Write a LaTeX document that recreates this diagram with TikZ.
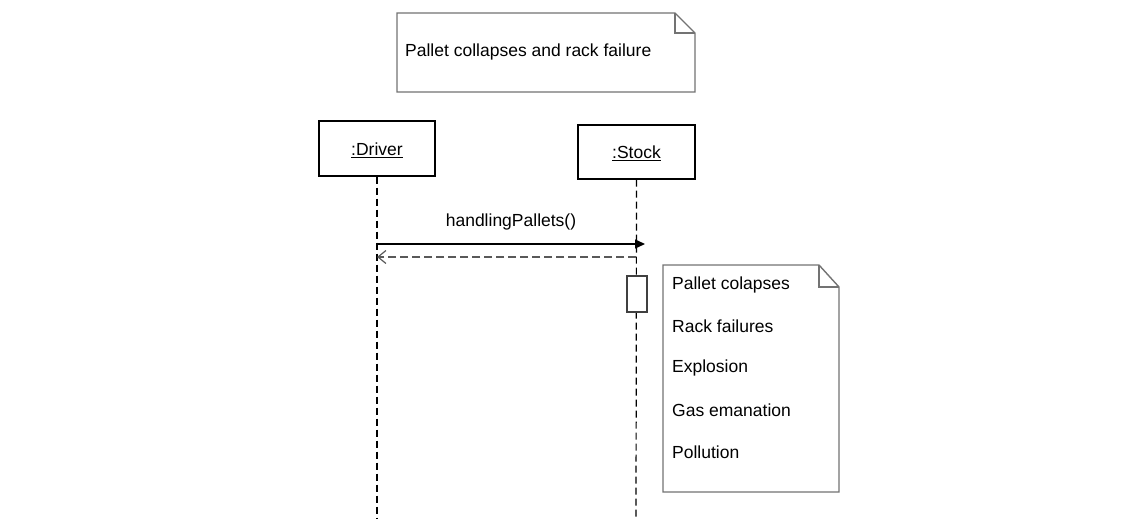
\documentclass[tikz,border=0pt]{standalone}
\usepackage{fontspec}
\setmainfont{Liberation Sans}
\usetikzlibrary{arrows.meta}
\tikzset{
  objbox/.style={draw=black, line width=1.1pt, inner sep=0pt, font=\fontsize{17.5}{19}\selectfont},
  lifeline/.style={black, line width=1.2pt, dash pattern=on 7pt off 4pt},
  notebd/.style={draw=black!55, line width=1.4pt, fill=white},
  notetxt/.style={anchor=west, inner sep=0pt, font=\fontsize{17.5}{19}\selectfont},
  msg/.style={line width=1.3pt, -{Triangle[length=10pt,width=9pt]}},
  ret/.style={black!65, line width=1.2pt, dash pattern=on 8pt off 4pt, -{Straight Barb[length=8pt,width=13pt]}},
}
\begin{document}
\begin{tikzpicture}[x=1pt,y=-1pt]
\useasboundingbox (0,0) rectangle (1143,519);
% top note
\draw[notebd] (397,13) -- (675,13) -- (695,33) -- (695,92) -- (397,92) -- cycle;
\draw[notebd, fill=none] (675,13) -- (675,33) -- (695,33);
\node[notetxt] (n1) at (405,52) {Pallet collapses and rack failure};
% objects
\node[objbox, minimum width=116pt, minimum height=55pt] (drv) at (377,148.5) {};
\node[font=\fontsize{17.5}{19}\selectfont, inner sep=0pt] (drvl) at (377,150.5) {\underline{:Driver}};
\node[objbox, minimum width=117pt, minimum height=54pt] (stk) at (636.5,152) {};
\node[font=\fontsize{17.5}{19}\selectfont, inner sep=0pt] (stkl) at (636.5,153.5) {\underline{:Stock}};
\coordinate (drvEnd) at (377,519);
\coordinate (stkEnd) at (636,519);
\draw[lifeline] (drv.south) -- (drvEnd);
\draw[lifeline] (stk.south) -- (stkEnd);
% messages
\coordinate (m1s) at (377,244);
\coordinate (m1e) at (645,244);
\draw[msg] (m1s) -- (m1e) node[midway, above=10pt, font=\fontsize{17.5}{19}\selectfont] (lbl) {handlingPallets()};
\coordinate (r1s) at (636,257);
\coordinate (r1e) at (377,257);
\draw[ret] (r1s) -- (r1e);
% activation
\node[draw=black!75, line width=1.2pt, fill=white, minimum width=20pt, minimum height=36pt, inner sep=0pt] (act) at (637,294) {};
% bottom note
\draw[notebd] (663,265) -- (819,265) -- (839,287) -- (839,492) -- (663,492) -- cycle;
\draw[notebd, fill=none] (819,265) -- (819,287) -- (839,287);
\node[notetxt] (t1) at (672,285) {Pallet colapses};
\node[notetxt] (t2) at (672,326.5) {Rack failures};
\node[notetxt] (t3) at (672,368) {Explosion};
\node[notetxt] (t4) at (672,410) {Gas emanation};
\node[notetxt] (t5) at (672,452) {Pollution};
\end{tikzpicture}
\end{document}
